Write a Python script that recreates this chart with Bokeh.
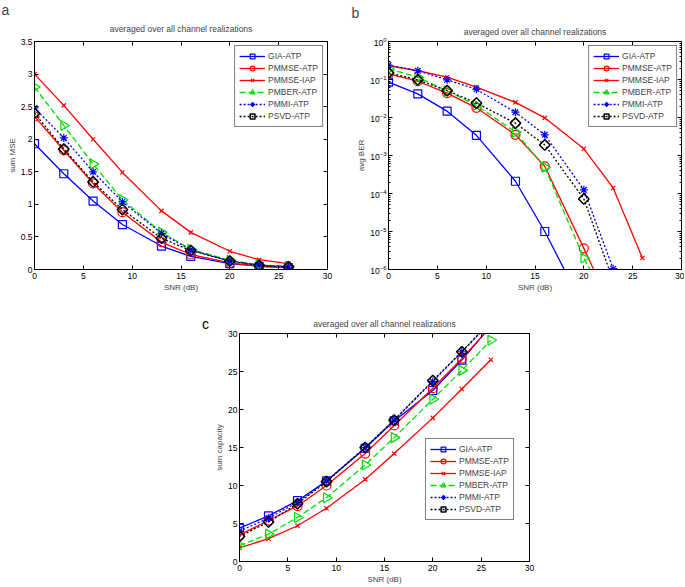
import numpy as np
from bokeh.plotting import figure
from bokeh.layouts import column, row
from bokeh.models import (Legend, LegendItem, LinearAxis, LogAxis, Title, Div,
                          FixedTicker, Range1d)
from bokeh.embed import file_html
from bokeh.resources import INLINE

# ---------------- data ----------------
SNR = [0, 3, 6, 9, 13, 16, 20, 23, 26]
NAMES = ["GIA-ATP", "PMMSE-ATP", "PMMSE-IAP", "PMBER-ATP", "PMMI-ATP", "PSVD-ATP"]
TITLE = "averaged over all channel realizations"

# (a) sum MSE
MSE_GIA = [1.93, 1.47, 1.05, 0.69, 0.36, 0.20, 0.09, 0.05, 0.03]
MSE_PMMSE = [2.35, 1.83, 1.32, 0.88, 0.42, 0.23, 0.10, 0.05, 0.03]
MSE_IAP = [3.00, 2.52, 2.00, 1.49, 0.90, 0.57, 0.28, 0.15, 0.09]
MSE_PMBER = [2.80, 2.21, 1.62, 1.07, 0.57, 0.31, 0.14, 0.07, 0.05]
MSE_PMMI = [2.48, 2.02, 1.50, 1.04, 0.555, 0.30, 0.13, 0.07, 0.04]
MSE_PSVD = [2.40, 1.85, 1.345, 0.92, 0.48, 0.29, 0.13, 0.06, 0.04]

# (b) avg BER
BER_GIA = [0.085, 0.042, 0.0147, 0.0034, 2.1e-4, 1.0e-5, 1.0e-7, 1e-9, 1e-11]
BER_PMMSE = [0.14, 0.09, 0.044, 0.018, 0.0035, 5.2e-4, 3.6e-6, 8e-8, 1e-9]
BER_IAP = [0.23, 0.17, 0.115, 0.063, 0.025, 0.0098, 1.5e-3, 1.4e-4, 2.0e-6]
BER_PMBER = [0.19, 0.115, 0.05, 0.021, 0.0041, 4.9e-4, 2.0e-6, 7.4e-8, 1e-9]
BER_PMMI = [0.24, 0.17, 0.098, 0.055, 0.0138, 0.0035, 1.25e-4, 1.05e-6, 1e-8]
BER_PSVD = [0.15, 0.098, 0.051, 0.024, 0.0071, 0.0019, 7.2e-5, 5.1e-7, 1e-9]

# (c) sum capacity
CAP_GIA = [4.4, 6.0, 8.0, 10.6, 14.9, 18.5, 22.5, 26.5, 31.0]
CAP_PMMSE = [3.5, 5.4, 7.3, 10.0, 14.2, 17.9, 22.8, 26.7, 30.9]
CAP_IAP = [1.8, 3.0, 4.7, 7.0, 10.8, 14.2, 18.9, 22.7, 26.55]
CAP_PMBER = [2.1, 3.6, 5.8, 8.4, 12.7, 16.3, 21.35, 25.15, 29.1]
CAP_PMMI = [4.0, 5.7, 7.8, 10.6, 15.0, 18.6, 23.7, 27.6, 31.5]
CAP_PSVD = [3.3, 5.2, 7.6, 10.5, 15.0, 18.6, 23.8, 27.6, 31.6]

X_TICKS = [0, 5, 10, 15, 20, 25, 30]
A_Y_TICKS = [0, 0.5, 1, 1.5, 2, 2.5, 3, 3.5]
B_Y_TICKS = [1e-6, 1e-5, 1e-4, 1e-3, 1e-2, 1e-1, 1]
B_Y_MINOR = [m * 10.0 ** e for e in range(-6, 0) for m in range(2, 10)]
C_Y_TICKS = [0, 5, 10, 15, 20, 25, 30]

# ---------------- styles ----------------
FONT = "Liberation Sans"
STYLES = [
    dict(color="#0000ff", dash="solid", marker="square", size=8, angle=0.0, lw=1.2),
    dict(color="#ff0000", dash="solid", marker="circle", size=9, angle=0.0, lw=1.2),
    dict(color="#ff0000", dash="solid", marker="x", size=6, angle=0.0, lw=1.2),
    dict(color="#00dd00", dash="6 3", marker="triangle", size=10, angle=-np.pi / 2, lw=1.2),
    dict(color="#0000ff", dash="2 2", marker="asterisk", size=8, angle=0.0, lw=1.2),
    dict(color="#000000", dash="2 2", marker="square", size=7.5, angle=np.pi / 4, lw=1.5),
]


def tick_only_axis(ax):
    ax.major_label_text_font_size = "1px"
    ax.major_label_text_color = None
    ax.major_label_standoff = 0
    ax.major_tick_in = 4
    ax.major_tick_out = 0
    ax.minor_tick_out = 0
    ax.axis_line_color = "black"


def make_fig(width, height, borders, ylog, yr, yticks, ylabel, series,
             legend_loc, title_standoff, letter=None, yminor=None):
    left, right, top, bottom = borders
    kw = dict(width=width, height=height, output_backend="svg", toolbar_location=None,
              x_range=Range1d(0, 30), y_range=Range1d(*yr), title=None,
              min_border_left=left, min_border_right=right,
              min_border_top=top, min_border_bottom=bottom)
    if ylog:
        kw["y_axis_type"] = "log"
    p = figure(**kw)
    p.xgrid.visible = False
    p.ygrid.visible = False
    p.outline_line_color = "black"
    p.outline_line_width = 1
    p.background_fill_color = "white"
    p.border_fill_color = "white"

    xa = p.xaxis[0]
    xa.ticker = FixedTicker(ticks=X_TICKS)
    xa.axis_label = "SNR (dB)"
    ya = p.yaxis[0]
    ya.ticker = FixedTicker(ticks=yticks, minor_ticks=yminor or [])
    ya.axis_label = ylabel
    for ax in (xa, ya):
        ax.major_tick_in = 4
        ax.major_tick_out = 0
        ax.minor_tick_in = 2
        ax.minor_tick_out = 0
        ax.major_label_text_font = FONT
        ax.major_label_text_font_size = "8.5px"
        ax.major_label_text_color = "black"
        ax.major_label_standoff = 2
        ax.axis_label_text_font = FONT
        ax.axis_label_text_font_size = "8px"
        ax.axis_label_text_font_style = "normal"
        ax.axis_label_standoff = 1
        ax.axis_line_color = "black"
    xa.major_label_standoff = 3
    xa.minor_tick_line_color = None
    if not ylog:
        ya.minor_tick_line_color = None

    # matlab-style ticks on top and right
    top_ax = LinearAxis(ticker=FixedTicker(ticks=X_TICKS))
    tick_only_axis(top_ax)
    top_ax.minor_tick_line_color = None
    p.add_layout(top_ax, "above")
    if ylog:
        right_ax = LogAxis(ticker=FixedTicker(ticks=yticks, minor_ticks=yminor or []))
        right_ax.minor_tick_in = 2
    else:
        right_ax = LinearAxis(ticker=FixedTicker(ticks=yticks))
        right_ax.minor_tick_line_color = None
    tick_only_axis(right_ax)
    p.add_layout(right_ax, "right")

    # titles (later additions sit further from the frame)
    p.add_layout(Title(text=TITLE, align="center", text_font=FONT, text_font_size="8.5px",
                       text_font_style="normal", standoff=title_standoff), "above")
    if letter is not None:
        p.add_layout(Title(text=letter[0], align="left", offset=letter[1], text_font=FONT,
                           text_font_size="14px", text_font_style="normal",
                           standoff=letter[2]), "above")

    items = []
    for name, ys, st in zip(NAMES, series, STYLES):
        lr = p.line(SNR, ys, line_color=st["color"], line_width=1.3,
                    line_dash=st["dash"])
        sr = p.scatter(SNR, ys, marker=st["marker"], size=st["size"], angle=st["angle"],
                       line_color=st["color"], fill_color=None, line_width=st["lw"])
        items.append(LegendItem(label=name, renderers=[lr, sr]))

    leg = Legend(items=items, location=legend_loc)
    leg.label_text_font = FONT
    leg.label_text_font_size = "8.5px"
    leg.glyph_width = 26
    leg.glyph_height = 12
    leg.label_height = 12
    leg.label_standoff = 3
    leg.spacing = 0
    leg.padding = 4
    leg.margin = 4
    leg.border_line_color = "black"
    leg.border_line_width = 1
    leg.background_fill_color = "white"
    leg.background_fill_alpha = 1
    p.add_layout(leg)
    return p


# panel a: frame 34..327 x 40..269 px ; panel b: frame 388..681 x 41..269 ;
# panel c: frame 237..529 x 333..562
fa = make_fig(340, 300, (34, 13, 40, 31), False, (0, 3.5), A_Y_TICKS, "sum MSE",
              [MSE_GIA, MSE_PMMSE, MSE_IAP, MSE_PMBER, MSE_PMMI, MSE_PSVD],
              "top_right", 15, letter=("a", -33, -6))
fb = make_fig(344, 300, (48, 3, 41, 31), True, (1e-6, 1), B_Y_TICKS, "avg BER",
              [BER_GIA, BER_PMMSE, BER_IAP, BER_PMBER, BER_PMMI, BER_PSVD],
              "top_right", 10, letter=("b", -37, -2), yminor=B_Y_MINOR)
fc = make_fig(348, 286, (25, 31, 33, 24), False, (0, 30), C_Y_TICKS, "sum capacity",
              [CAP_GIA, CAP_PMMSE, CAP_IAP, CAP_PMBER, CAP_PMMI, CAP_PSVD],
              (186, 41), 10)

c_label = Div(text="<div style=\"font-family:'Liberation Sans',sans-serif;font-size:14px;"
                   "line-height:17px;padding-top:16px;padding-left:202px;color:black;\">c</div>",
              width=212, height=286, margin=0)

layout = column(row(fa, fb), row(c_label, fc))
open("out.html", "w").write(file_html(layout, INLINE))
